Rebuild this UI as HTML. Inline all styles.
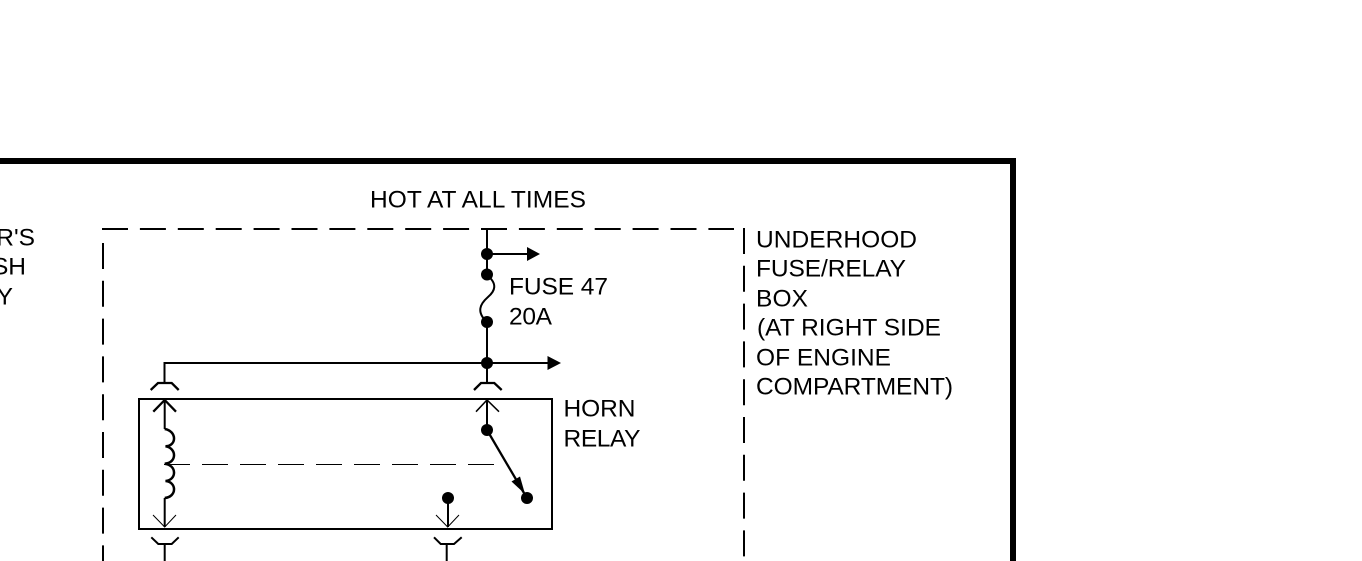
<!DOCTYPE html>
<html>
<head>
<meta charset="utf-8">
<style>
html,body{margin:0;padding:0;background:#fff}
svg{display:block}
text{font-family:"Liberation Sans",Arial,sans-serif;font-size:24.500px;fill:#000}
</style>
</head>
<body>
<svg width="1362" height="561" viewBox="0 0 1362 561" xmlns="http://www.w3.org/2000/svg">
<rect width="1362" height="561" fill="#fff"/>
<!-- outer thick frame -->
<path d="M0 161H1013V561" fill="none" stroke="#000" stroke-width="6"/>
<!-- dashed box -->
<g fill="none" stroke="#000" stroke-width="2">
<path d="M102 229H734" stroke-dasharray="26 11.900"/>
<path d="M103 243V561" stroke-dasharray="26 11.800"/>
<path d="M744 228V561" stroke-dasharray="26 11.800"/>
<!-- relay box -->
<rect x="139" y="399" width="413" height="130"/>
<!-- left wire / connector -->
<path d="M487 363H164.500V383"/>
<path d="M150.700 390L158 383H171.700L178.700 390" stroke-width="2.300"/>
<path d="M153.300 411.700L164.700 400L176 411.700" stroke-width="2.300"/>
<path d="M164.700 400V429"/>
<path d="M164.700 429C177 431 177 446 165.500 446.300C177 448 177 463 164.700 463.700C177 465 177 480 165.500 481C177 482 177 497 164.700 498" stroke-width="2.500"/>
<path d="M164.700 498V527"/>
<path d="M151.300 537.300L158.300 544H171.700L178.700 537.300"/>
<path d="M164.700 544V561"/>
<!-- main vertical -->
<path d="M487 229V275"/>
<path d="M487 275C498 284 495 291 488 297C480 304 476 312 487 322"/>
<path d="M487 322V383"/>
<path d="M474 390L481 383H494.300L501.700 390" stroke-width="2.300"/>
<path d="M476 411.700L487 400L499 411.700" stroke-width="1.500"/>
<path d="M487 400V430"/>
<path d="M487 254H528"/>
<path d="M487 363H548"/>
<path d="M487 430L524 493" stroke-width="2.300"/>
<path d="M448 498V527"/>
<path d="M434 537.300L440.700 544H454L461.700 537.300"/>
<path d="M446.700 544V561"/>
</g>
<g fill="none" stroke="#000" stroke-width="1">
<path d="M153 515L164.700 527L176 515"/>
<path d="M436 515L447.700 527L459 515"/>
<path d="M164 464.500H494" stroke-dasharray="26 12"/>
</g>
<!-- dots and arrowheads -->
<g fill="#000">
<circle cx="487" cy="254" r="6"/>
<circle cx="487" cy="274.500" r="6"/>
<circle cx="487" cy="322" r="6"/>
<circle cx="487" cy="363" r="6"/>
<circle cx="487" cy="430" r="6"/>
<circle cx="527" cy="498" r="6"/>
<circle cx="448" cy="498" r="6"/>
<polygon points="527,247 540,254 527,261"/>
<polygon points="547.500,356 561,363 547.500,370"/>
<polygon points="511.500,481.500 520,476.500 525,494"/>
</g>
<!-- labels -->
<text x="370" y="207.500" textLength="216" lengthAdjust="spacing">HOT AT ALL TIMES</text>
<text x="509" y="294.500" textLength="99" lengthAdjust="spacing">FUSE 47</text>
<text x="509" y="324.500" textLength="43" lengthAdjust="spacing">20A</text>
<text x="563.500" y="416.500" textLength="72" lengthAdjust="spacing">HORN</text>
<text x="563.500" y="446.500" textLength="77" lengthAdjust="spacing">RELAY</text>
<text x="756" y="247.500" textLength="161" lengthAdjust="spacing">UNDERHOOD</text>
<text x="756" y="276.500" textLength="150" lengthAdjust="spacing">FUSE/RELAY</text>
<text x="756" y="306.500" textLength="52" lengthAdjust="spacing">BOX</text>
<text x="757" y="335.500" textLength="184" lengthAdjust="spacing">(AT RIGHT SIDE</text>
<text x="756" y="365.500" textLength="135" lengthAdjust="spacing">OF ENGINE</text>
<text x="756" y="394.500" textLength="197" lengthAdjust="spacing">COMPARTMENT)</text>
<text x="35" y="245.500" text-anchor="end">R'S</text>
<text x="26" y="274.500" text-anchor="end">SH</text>
<text x="13" y="304.500" text-anchor="end">Y</text>
</svg>
</body>
</html>
